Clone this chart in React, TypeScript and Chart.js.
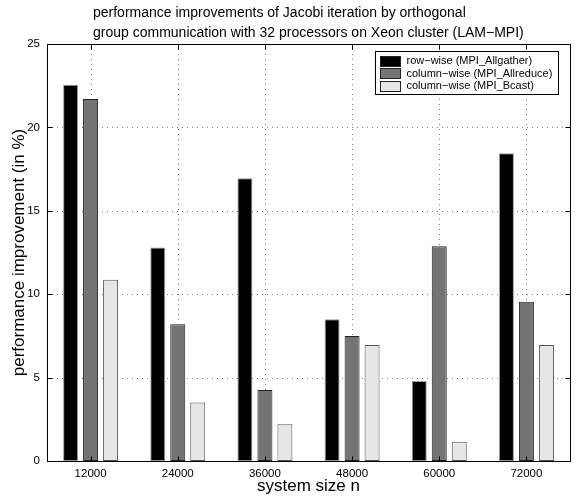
import React, { useEffect, useRef } from "react";
import { Chart, registerables } from "chart.js";

Chart.register(...registerables);

const categories = ["12000", "24000", "36000", "48000", "60000", "72000"];
const seriesLabels = [
  "row\u2212wise (MPI_Allgather)",
  "column\u2212wise (MPI_Allreduce)",
  "column\u2212wise (MPI_Bcast)",
];
const rowAllgather = [22.55, 12.8, 16.95, 8.5, 4.8, 18.45];
const colAllreduce = [21.7, 8.2, 4.25, 7.5, 12.87, 9.55];
const colBcast = [10.87, 3.5, 2.2, 6.95, 1.15, 6.95];
const yTicks = [0, 5, 10, 15, 20, 25];
const titleLines = [
  "performance improvements of Jacobi iteration by orthogonal",
  "group communication with 32 processors on Xeon cluster (LAM\u2212MPI)",
];
const xTitle = "system size n";
const yTitle = "performance improvement (in %)";

const FONT = "'Liberation Sans', Arial, Helvetica, sans-serif";

const fills = ["#000000", "#747474", "#e6e6e6"];
const borders = ["#9a9a9a", "#222222", "#555555"];

const framePlugin = {
  id: "matlabFrame",
  beforeDatasetsDraw(chart: any) {
    const { ctx, chartArea: a, scales } = chart;
    ctx.save();
    ctx.strokeStyle = "#808080";
    ctx.lineWidth = 1;
    ctx.setLineDash([1, 4]);
    yTicks.forEach((v) => {
      if (v === yTicks[0] || v === yTicks[yTicks.length - 1]) return;
      const y = Math.round(scales.y.getPixelForValue(v)) + 0.5;
      ctx.beginPath();
      ctx.moveTo(a.left, y);
      ctx.lineTo(a.right, y);
      ctx.stroke();
    });
    categories.forEach((_, i) => {
      const x = Math.round(scales.x.getPixelForValue(i)) + 0.5;
      ctx.beginPath();
      ctx.moveTo(x, a.top);
      ctx.lineTo(x, a.bottom);
      ctx.stroke();
    });
    ctx.restore();
  },
  afterDatasetsDraw(chart: any) {
    const { ctx, chartArea: a, scales } = chart;
    ctx.save();
    ctx.strokeStyle = "#000";
    ctx.lineWidth = 1;
    ctx.setLineDash([]);
    const L = Math.round(a.left) + 0.5;
    const R = Math.round(a.right) + 0.5;
    const T = Math.round(a.top) + 0.5;
    const B = Math.round(a.bottom) + 0.5;
    ctx.strokeRect(L, T, R - L, B - T);
    const tl = 5;
    yTicks.forEach((v) => {
      const y = Math.round(scales.y.getPixelForValue(v)) + 0.5;
      ctx.beginPath();
      ctx.moveTo(L, y);
      ctx.lineTo(L + tl, y);
      ctx.moveTo(R, y);
      ctx.lineTo(R - tl, y);
      ctx.stroke();
    });
    categories.forEach((_, i) => {
      const x = Math.round(scales.x.getPixelForValue(i)) + 0.5;
      ctx.beginPath();
      ctx.moveTo(x, B);
      ctx.lineTo(x, B - tl);
      ctx.moveTo(x, T);
      ctx.lineTo(x, T + tl);
      ctx.stroke();
    });

    // legend
    ctx.font = `11px ${FONT}`;
    const ds = chart.data.datasets;
    let maxW = 0;
    ds.forEach((d: any) => {
      maxW = Math.max(maxW, ctx.measureText(d.label).width);
    });
    const rowH = 12.5;
    const boxW = 31 + maxW + 6;
    const boxH = rowH * ds.length + 5;
    const bx = Math.round(a.right - 12 - boxW) + 0.5;
    const by = Math.round(a.top + 7) + 0.5;
    ctx.fillStyle = "#fff";
    ctx.fillRect(bx, by, Math.round(boxW), Math.round(boxH));
    ctx.strokeStyle = "#000";
    ctx.strokeRect(bx, by, Math.round(boxW), Math.round(boxH));
    ds.forEach((d: any, i: number) => {
      const cy = by + 3 + rowH * i + rowH / 2;
      const sx = bx + 5;
      const sy = Math.round(cy - 5) + 0.5;
      ctx.fillStyle = d.backgroundColor;
      ctx.fillRect(sx, sy, 20, 10);
      ctx.strokeStyle = "#222";
      ctx.strokeRect(sx, sy, 20, 10);
      ctx.fillStyle = "#000";
      ctx.textAlign = "left";
      ctx.textBaseline = "middle";
      ctx.fillText(d.label, bx + 31, cy + 0.5);
    });

    // title
    ctx.font = `14px ${FONT}`;
    ctx.fillStyle = "#000";
    ctx.textAlign = "left";
    ctx.textBaseline = "middle";
    titleLines.forEach((t, i) => {
      ctx.fillText(t, a.left + 46, 13 + i * 20);
    });
    ctx.restore();
  },
};

export default function App() {
  const ref = useRef<HTMLCanvasElement | null>(null);
  useEffect(() => {
    if (!ref.current) return;
    const series = [rowAllgather, colAllreduce, colBcast];
    const chart = new Chart(ref.current, {
      type: "bar",
      data: {
        labels: categories,
        datasets: series.map((s, i) => ({
          label: seriesLabels[i],
          data: s,
          backgroundColor: fills[i],
          borderColor: borders[i],
          borderWidth: 1,
          borderSkipped: false,
          categoryPercentage: 0.688,
          barPercentage: 0.75,
        })),
      },
      options: {
        responsive: false,
        animation: false,
        events: [],
        layout: { padding: { top: 44, right: 13, left: 0, bottom: 0 } },
        plugins: {
          legend: { display: false },
          title: { display: false },
          tooltip: { enabled: false },
        },
        scales: {
          x: {
            grid: { display: false, drawTicks: false, tickLength: 0 },
            border: { display: false },
            ticks: {
              color: "#000",
              font: { family: FONT, size: 11.5 },
              padding: 6,
              maxRotation: 0,
            },
            title: {
              display: true,
              text: xTitle,
              color: "#000",
              font: { family: FONT, size: 17 },
              padding: { top: 0, bottom: 0 },
            },
            afterFit: (s: any) => {
              s.height = 36;
            },
          },
          y: {
            min: 0,
            max: 25,
            grid: { display: false, drawTicks: false, tickLength: 0 },
            border: { display: false },
            ticks: {
              stepSize: 5,
              color: "#000",
              font: { family: FONT, size: 11.5 },
              padding: 7,
            },
            title: {
              display: true,
              text: yTitle,
              color: "#000",
              font: { family: FONT, size: 17 },
              padding: { top: 9, bottom: 0 },
            },
            afterFit: (s: any) => {
              s.width = 47;
            },
          },
        },
      },
      plugins: [framePlugin],
    });
    return () => chart.destroy();
  }, []);
  return (
    <div style={{ position: "absolute", left: 0, top: 0, width: 583, height: 497, background: "#fff" }}>
      <canvas ref={ref} width={583} height={497} style={{ display: "block" }} />
    </div>
  );
}
